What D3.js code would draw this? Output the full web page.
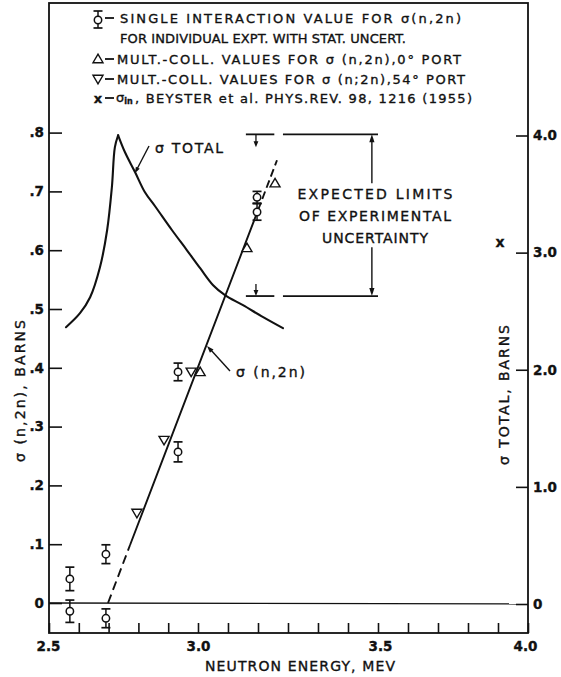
<!DOCTYPE html>
<html><head><meta charset="utf-8">
<script src="https://cdn.jsdelivr.net/npm/d3@7"></script>
<style>body{margin:0;background:#fff}text{font-family:"DejaVu Sans",sans-serif;fill:#111;stroke:#111;stroke-width:0.35px}</style>
</head><body>
<svg id="c" width="561" height="677"></svg>
<script>
// ---------- DATA ----------
const xTickValues = [2.5, 3.0, 3.5, 4.0];
const xTickLabels = ["2.5", "3.0", "3.5", "4.0"];
const xMinorTicks = [2.6, 2.7, 2.8, 2.9, 3.0833, 3.1667, 3.25, 3.3333, 3.4167, 3.6, 3.7, 3.8, 3.9];
const leftTickValues = [0, 0.1, 0.2, 0.3, 0.4, 0.5, 0.6, 0.7, 0.8];
const leftTickLabels = ["0", ".1", ".2", ".3", ".4", ".5", ".6", ".7", ".8"];
const rightTickValues = [0, 1, 2, 3, 4];
const rightTickLabels = ["0", "1.0", "2.0", "3.0", "4.0"];

// single interaction values sigma(n,2n) with stat. uncertainty
const singleE   = [2.570, 2.570, 2.691, 2.691, 2.933, 2.933, 3.164, 3.164];
const singleV   = [0.041, -0.014, 0.083, -0.026, 0.257, 0.393, 0.690, 0.665];
const singleErr = [0.020, 0.019, 0.016, 0.016, 0.017, 0.015, 0.010, 0.014];
// mult.-coll. values, 0 deg port (up triangles)
const port0E = [3.006, 3.136, 3.214];
const port0V = [0.393, 0.604, 0.714];
// mult.-coll. values, 54 deg port (down triangles)
const port54E = [2.795, 2.886, 2.977];
const port54V = [0.153, 0.277, 0.393];
// sigma_in, Beyster et al. (right axis, barns)
const beysterE = [3.907];
const beysterV = [3.09];
// sigma total curve (right axis, barns); peak at index 7
const totalE = [2.557, 2.604, 2.638, 2.671, 2.695, 2.711, 2.721, 2.732, 2.755, 2.789, 2.822, 2.856, 2.913, 2.963, 3.006, 3.042, 3.075, 3.125, 3.181, 3.236];
const totalV = [2.363, 2.483, 2.619, 2.875, 3.191, 3.558, 3.899, 4.002, 3.857, 3.686, 3.515, 3.396, 3.191, 3.020, 2.867, 2.722, 2.637, 2.551, 2.449, 2.355];
const totalPeakIndex = 7;
// sigma(n,2n) fitted line: dashed, solid, dashed
const n2nE = [2.698, 2.772, 3.0, 3.1667, 3.2194];
const n2nV = [0.0, 0.0986, 0.401, 0.668, 0.753];
// expected limits of experimental uncertainty (left axis)
const limitV = [0.797, 0.522];
const limitSegE = [[3.133, 3.212], [3.236, 3.5]];
const limitSmallArrowE = 3.161;
const limitArrowE = 3.483;
const limitTextGapV = [0.714, 0.605];

// ---------- LAYOUT ----------
const svg = d3.select("#c");
const L = 49, R = 528, T = 3, B = 633;
const x = d3.scaleLinear().domain([2.5, 3.0, 3.5, 4.0]).range([49, 198, 378, 528]);
const yL = d3.scaleLinear().domain([0, 0.8]).range([603, 132.6]);
const yR = d3.scaleLinear().domain([0, 4]).range([604, 135.5]);
const ink = "#111";

// frame
svg.append("rect").attr("x", L).attr("y", T).attr("width", R - L).attr("height", B - T)
  .attr("fill", "none").attr("stroke", ink).attr("stroke-width", 1.8);

// axes
const fs = 13.5;
const gL = svg.append("g").attr("transform", `translate(${L},0)`)
  .call(d3.axisLeft(yL).tickValues(leftTickValues).tickSize(-13).tickPadding(5)
    .tickFormat((d, i) => leftTickLabels[i]));
const gR = svg.append("g").attr("transform", `translate(${R},0)`)
  .call(d3.axisRight(yR).tickValues(rightTickValues).tickSize(-12).tickPadding(5)
    .tickFormat((d, i) => rightTickLabels[i]));
const gB = svg.append("g").attr("transform", `translate(0,${B})`)
  .call(d3.axisBottom(x).tickValues(xTickValues).tickSize(-10).tickPadding(8)
    .tickFormat((d, i) => xTickLabels[i]));
const gBm = svg.append("g").attr("transform", `translate(0,${B})`)
  .call(d3.axisBottom(x).tickValues(xMinorTicks).tickSize(-10).tickFormat(""));
[gL, gR, gB, gBm].forEach(g => {
  g.select(".domain").remove();
  g.selectAll(".tick line").attr("stroke", ink).attr("stroke-width", 1.6);
  g.selectAll(".tick text").attr("font-size", fs).attr("font-weight", "bold")
    .attr("fill", ink).style("font-family", '"DejaVu Sans",sans-serif');
});
gB.selectAll(".tick text").attr("dx", (d, i) => [-1, 0, 2, -3][i]);

// zero line
svg.append("line").attr("x1", L).attr("x2", R).attr("y1", yL(0)).attr("y2", yR(0))
  .attr("stroke", ink).attr("stroke-width", 1.3);

// axis titles
const tfs = 14;
svg.append("text").attr("transform", `translate(20,391) rotate(-90)`)
  .attr("text-anchor", "middle").attr("dominant-baseline", "central")
  .attr("font-size", tfs).attr("textLength", 142).attr("lengthAdjust", "spacing")
  .text("σ (n,2n), BARNS");
svg.append("text").attr("transform", `translate(504,395) rotate(-90)`)
  .attr("text-anchor", "middle").attr("dominant-baseline", "central")
  .attr("font-size", tfs).attr("textLength", 140).attr("lengthAdjust", "spacing")
  .text("σ TOTAL, BARNS");
svg.append("text").attr("x", 300).attr("y", 666)
  .attr("text-anchor", "middle").attr("dominant-baseline", "central")
  .attr("font-size", tfs).attr("textLength", 190).attr("lengthAdjust", "spacing")
  .text("NEUTRON ENERGY, MEV");

// sigma total curve: two smooth branches meeting at a sharp peak
const totalPts = totalE.map((e, i) => [e, totalV[i]]);
const tl = d3.line().x(d => x(d[0])).y(d => yR(d[1])).curve(d3.curveCatmullRom.alpha(0.5));
[totalPts.slice(0, totalPeakIndex + 1), totalPts.slice(totalPeakIndex)].forEach(seg =>
  svg.append("path").datum(seg).attr("d", tl)
    .attr("fill", "none").attr("stroke", ink).attr("stroke-width", 2.1)
    .attr("stroke-linejoin", "round").attr("stroke-linecap", "round"));

// sigma(n,2n) line
const n2nPts = n2nE.map((e, i) => [e, n2nV[i]]);
const ln = d3.line().x(d => x(d[0])).y(d => yL(d[1]));
svg.append("path").datum(n2nPts.slice(0, 2)).attr("d", ln).attr("fill", "none")
  .attr("stroke", ink).attr("stroke-width", 1.9).attr("stroke-dasharray", "9,5");
svg.append("path").datum(n2nPts.slice(1, 4)).attr("d", ln).attr("fill", "none")
  .attr("stroke", ink).attr("stroke-width", 1.9);
svg.append("path").datum(n2nPts.slice(3, 5)).attr("d", ln).attr("fill", "none")
  .attr("stroke", ink).attr("stroke-width", 1.9).attr("stroke-dasharray", "8,4");

// helpers
function head(px, py, dx, dy, len = 7, w = 2.6) {
  const n = Math.hypot(dx, dy), ux = dx / n, uy = dy / n;
  const bx = px - ux * len, by = py - uy * len;
  svg.append("path").attr("d",
    `M${px},${py}L${bx - uy * w},${by + ux * w}L${bx + uy * w},${by - ux * w}Z`).attr("fill", ink);
}
function tri(g, cx, cy, down) {
  const s = 5;
  const p = down
    ? `M${cx - s},${cy - s * 0.75}L${cx + s},${cy - s * 0.75}L${cx},${cy + s * 0.95}Z`
    : `M${cx - s},${cy + s * 0.75}L${cx + s},${cy + s * 0.75}L${cx},${cy - s * 0.95}Z`;
  g.append("path").attr("d", p).attr("fill", "#fff").attr("stroke", ink).attr("stroke-width", 1.4);
}
function errPt(g, cx, cy, y1, y2) {
  g.append("line").attr("x1", cx).attr("x2", cx).attr("y1", y1).attr("y2", y2)
    .attr("stroke", ink).attr("stroke-width", 1.5);
  [y1, y2].forEach(yy => g.append("line").attr("x1", cx - 4.5).attr("x2", cx + 4.5)
    .attr("y1", yy).attr("y2", yy).attr("stroke", ink).attr("stroke-width", 1.7));
  g.append("circle").attr("cx", cx).attr("cy", cy).attr("r", 3.7)
    .attr("fill", "#fff").attr("stroke", ink).attr("stroke-width", 1.5);
}

// markers
const gm = svg.append("g");
port54E.forEach((e, i) => tri(gm, x(e), yL(port54V[i]), true));
port0E.forEach((e, i) => tri(gm, x(e), yL(port0V[i]), false));
singleE.forEach((e, i) => errPt(gm, x(e), yL(singleV[i]),
  yL(singleV[i] + singleErr[i]), yL(singleV[i] - singleErr[i])));
beysterE.forEach((e, i) => svg.append("text").attr("x", x(e)).attr("y", yR(beysterV[i]))
  .attr("text-anchor", "middle").attr("dominant-baseline", "central")
  .attr("font-size", 14).attr("font-weight", "bold").text("x"));

// labels with leaders
svg.append("text").attr("x", 155).attr("y", 148).attr("dominant-baseline", "central")
  .attr("font-size", tfs).attr("textLength", 68).attr("lengthAdjust", "spacing").text("σ TOTAL");
svg.append("line").attr("x1", 149).attr("y1", 146).attr("x2", 136).attr("y2", 171)
  .attr("stroke", ink).attr("stroke-width", 1.4);
head(135, 173, -1, 1.9, 6, 2.2);
svg.append("text").attr("x", 236).attr("y", 372).attr("dominant-baseline", "central")
  .attr("font-size", tfs).attr("textLength", 69).attr("lengthAdjust", "spacing").text("σ (n,2n)");
svg.append("line").attr("x1", 230).attr("y1", 371).attr("x2", 210).attr("y2", 349)
  .attr("stroke", ink).attr("stroke-width", 1.4);
head(207, 346, -1, -1.1, 7, 2.4);

// expected limits bracket
limitV.forEach(v => limitSegE.forEach(s => svg.append("line")
  .attr("x1", x(s[0])).attr("x2", x(s[1])).attr("y1", yL(v)).attr("y2", yL(v))
  .attr("stroke", ink).attr("stroke-width", 1.8)));
const sx = x(limitSmallArrowE);
svg.append("line").attr("x1", sx).attr("x2", sx).attr("y1", yL(limitV[0])).attr("y2", yL(limitV[0]) + 8)
  .attr("stroke", ink).attr("stroke-width", 1.3);
head(sx, yL(limitV[0]) + 13, 0, 1, 6, 2.4);
svg.append("line").attr("x1", sx).attr("x2", sx).attr("y1", yL(limitV[1]) - 12).attr("y2", yL(limitV[1]) - 4)
  .attr("stroke", ink).attr("stroke-width", 1.3);
head(sx, yL(limitV[1]), 0, 1, 6, 2.4);
const vx = x(limitArrowE);
svg.append("line").attr("x1", vx).attr("x2", vx).attr("y1", yL(limitV[0]) + 5).attr("y2", yL(limitTextGapV[0]))
  .attr("stroke", ink).attr("stroke-width", 1.4);
head(vx, yL(limitV[0]), 0, -1, 8, 2.6);
svg.append("line").attr("x1", vx).attr("x2", vx).attr("y1", yL(limitTextGapV[1])).attr("y2", yL(limitV[1]) - 5)
  .attr("stroke", ink).attr("stroke-width", 1.4);
head(vx, yL(limitV[1]), 0, 1, 8, 2.6);
[["EXPECTED LIMITS", 194, 155], ["OF EXPERIMENTAL", 216, 152], ["UNCERTAINTY", 238, 106]].forEach(t =>
  svg.append("text").attr("x", 375).attr("y", t[1]).attr("text-anchor", "middle")
    .attr("dominant-baseline", "central").attr("font-size", tfs)
    .attr("textLength", t[2]).attr("lengthAdjust", "spacing").text(t[0]));

// legend
const lg = svg.append("g");
const lgSymX = 98;
errPt(lg, lgSymX, 20, 11, 28);
tri(lg, lgSymX, 59, false);
tri(lg, lgSymX, 79, true);
lg.append("text").attr("x", lgSymX).attr("y", 98).attr("text-anchor", "middle")
  .attr("dominant-baseline", "central").attr("font-size", 13).attr("font-weight", "bold").text("x");
[18, 59, 79, 98].forEach(yy => lg.append("line").attr("x1", 105).attr("x2", 114)
  .attr("y1", yy).attr("y2", yy).attr("stroke", ink).attr("stroke-width", 1.8));
const lfs = 13;
const legendLines = [
  ["SINGLE INTERACTION VALUE FOR σ(n,2n)", 120, 18, 341],
  ["FOR INDIVIDUAL EXPT. WITH STAT. UNCERT.", 120, 38, 286],
  ["MULT.-COLL. VALUES FOR σ (n,2n),0° PORT", 117, 59, 344],
  ["MULT.-COLL. VALUES FOR σ (n;2n),54° PORT", 117, 79, 348],
  [", BEYSTER et al. PHYS.REV. 98, 1216 (1955)", 135, 98, 337]
];
legendLines.forEach(t => lg.append("text").attr("x", t[1]).attr("y", t[2])
  .attr("dominant-baseline", "central").attr("font-size", lfs)
  .attr("textLength", t[3]).attr("lengthAdjust", "spacing").text(t[0]));
const sg = lg.append("text").attr("x", 116).attr("y", 97).attr("dominant-baseline", "central")
  .attr("font-size", 13);
sg.append("tspan").text("σ");
sg.append("tspan").attr("font-size", 8).attr("dy", 4).attr("font-weight", "bold").text("in");
</script>
</body></html>
